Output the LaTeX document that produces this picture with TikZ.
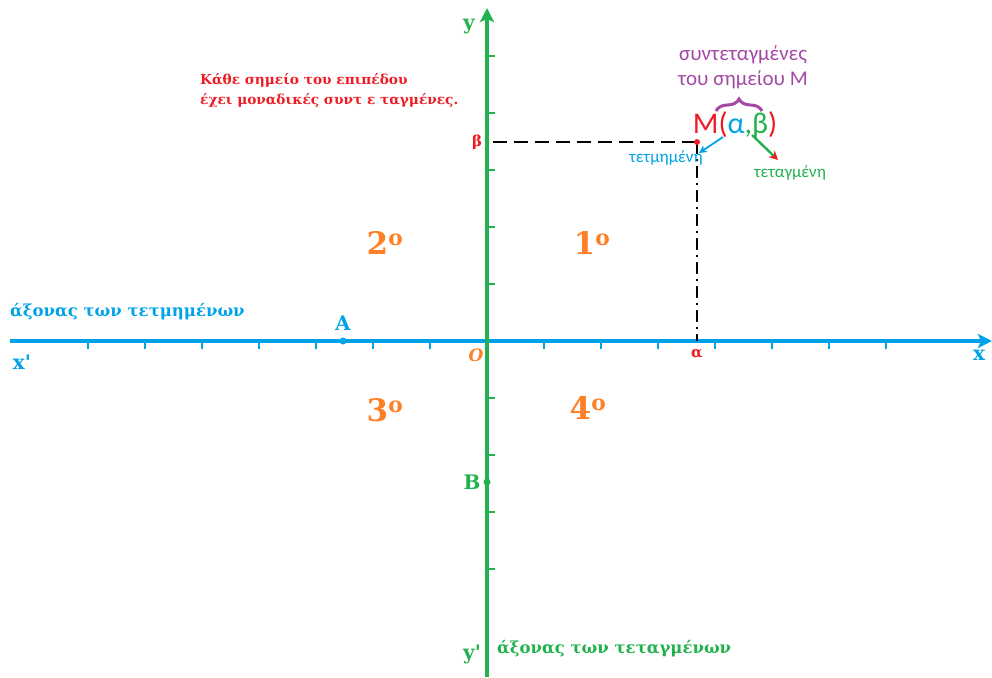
\documentclass[tikz,border=0pt]{standalone}
\usepackage{fontspec}
\setmainfont{DejaVu Serif}
\newfontfamily\calib{Carlito}
\usetikzlibrary{arrows.meta,decorations.pathreplacing}
\definecolor{axblue}{HTML}{00A2E8}
\definecolor{axgreen}{HTML}{22B14C}
\definecolor{qorange}{HTML}{FF7F27}
\definecolor{mred}{HTML}{ED1C24}
\definecolor{mpurple}{HTML}{A349A4}
\tikzset{
  xaxis/.style={draw=axblue,line width=3.5pt,-{Stealth[length=14pt,width=14pt,inset=3pt]}},
  yaxis/.style={draw=axgreen,line width=3.5pt,-{Stealth[length=14pt,width=14pt,inset=3pt]}},
  xtick/.style={draw=axblue,line width=1.4pt},
  ytick/.style={draw=axgreen,line width=1.4pt},
  quad/.style={text=qorange,font=\fontsize{31}{33}\selectfont\bfseries,inner sep=0pt},
  guide/.style={draw=black,line width=1.2pt,dash pattern=on 14pt off 7pt},
  guidev/.style={draw=black,line width=1.2pt,dash pattern=on 12pt off 5pt on 2pt off 5pt},
  lbl/.style={font=\fontsize{20}{22}\selectfont\bfseries,inner sep=0pt},
  axname/.style={font=\fontsize{16.5}{20}\selectfont\bfseries,inner sep=0pt,anchor=west},
}
\begin{document}
\begin{tikzpicture}[x=1pt,y=-1pt]
\useasboundingbox (0,0) rectangle (992,677);
% axes
\coordinate (xl) at (10,341);
\coordinate (xr) at (992,341);
\coordinate (yb) at (487,677);
\coordinate (yt) at (487,8);
\foreach \i in {-7,...,-1,1,2,...,7} \draw[xtick] (487+57*\i,341) -- ++(0,8);
\foreach \i in {-5,...,-1,1,2,3,4} \draw[ytick] (487,341+57*\i) -- ++(8,0);
\draw[xaxis] (xl) -- (xr);
\draw[yaxis] (yb) -- (yt);
% axis labels
\node[lbl,text=axblue] (xp) at (22,362) {x\textquotesingle};
\node[lbl,text=axblue] (xx) at (979,355) {x};
\node[lbl,text=axgreen] (yy) at (469,27) {y};
\node[lbl,text=axgreen] (yp) at (472,654) {y\textquotesingle};
\node[axname,text=axblue] (xname) at (10,312) {άξονας των τετμημένων};
\node[axname,text=axgreen] (yname) at (497,649) {άξονας των τεταγμένων};
\node[text=qorange,inner sep=0pt,font=\fontsize{17}{20}\selectfont\itshape\bfseries] (O) at (476,355) {O};
% points A, B
\fill[axblue] (343,341) circle (3.5pt) coordinate (A);
\node[lbl,text=axblue] (Alab) at (343,323) {A};
\fill[axgreen] (487,482) circle (3.5pt) coordinate (B);
\node[lbl,text=axgreen] (Blab) at (472,482) {B};
% quadrants
\node[quad] (q1) at (592,243) {1\textsuperscript{o}};
\node[quad] (q2) at (385,243) {2\textsuperscript{o}};
\node[quad] (q3) at (385,410) {3\textsuperscript{o}};
\node[quad] (q4) at (588,408) {4\textsuperscript{o}};
% point M
\coordinate (M) at (697,142);
\coordinate (Mx) at (697,341);
\coordinate (My) at (493,142);
\draw[guide] (My) -- (M);
\draw[guidev] (M) -- (Mx);
\fill[mred] (M) circle (3pt);
\node[text=mred,font=\fontsize{15}{18}\selectfont\bfseries,inner sep=0pt] (beta) at (477,142) {β};
\node[text=mred,font=\fontsize{15}{18}\selectfont\bfseries,inner sep=0pt] (alpha) at (697,354) {α};
\node[font=\calib\fontsize{30}{32}\selectfont,inner sep=0pt] (Mlab) at (735,125)
  {\textcolor{mred}{M(}\textcolor{axblue}{α}\textcolor{axgreen}{,}\textcolor{axgreen}{β}\textcolor{mred}{)}};
\coordinate (br1) at (716,111);
\coordinate (br2) at (762,111);
\draw[mpurple,line width=3pt,decorate,decoration={brace,amplitude=12pt}] (br1) -- (br2);
\node[text=mpurple,font=\calib\fontsize{21}{25}\selectfont,align=center,inner sep=0pt] (coord) at (743,67) {συντεταγμένες\\του σημείου M};
\node[text=mred,font=\fontsize{13.7}{20}\selectfont\bfseries,align=left,anchor=north west,inner sep=0pt] (note) at (200,73) {Κάθε σημείο του επιπέδου\\έχει μοναδικές συντ ε ταγμένες.};
% small arrows
\coordinate (a1s) at (723,137);
\coordinate (a1e) at (699,153);
\draw[axblue,line width=1.8pt,-{Stealth[length=8pt,width=8pt]}] (a1s) -- (a1e);
\coordinate (a2s) at (752,135);
\coordinate (a2e) at (778,160);
\draw[axgreen,line width=2.4pt,-{Stealth[length=9pt,width=9pt,color=mred]}] (a2s) -- (a2e);
\node[text=axblue,font=\calib\fontsize{17}{18}\selectfont,inner sep=0pt] (tetm) at (666,158) {τετμημένη};
\node[text=axgreen,font=\calib\fontsize{17}{18}\selectfont,inner sep=0pt] (tetag) at (790,173) {τεταγμένη};
\end{tikzpicture}
\end{document}
